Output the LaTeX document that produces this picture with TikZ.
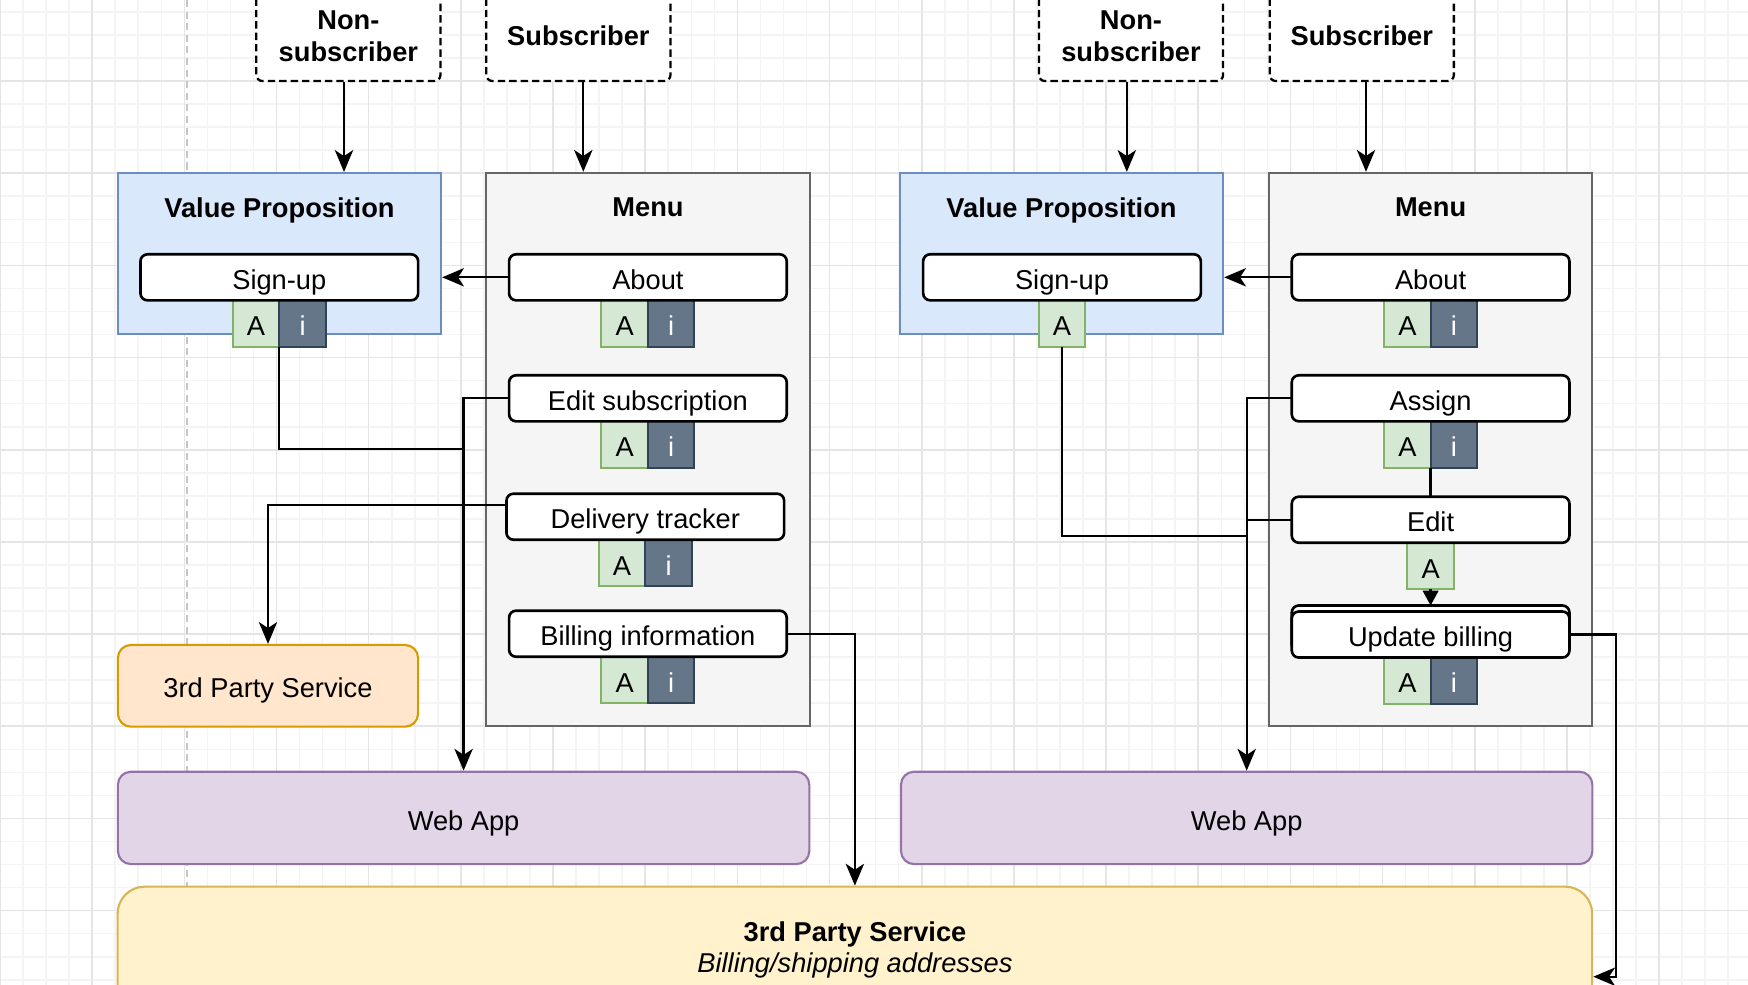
\documentclass[tikz,border=0pt]{standalone}
\usepackage{fontspec}
\setmainfont{Liberation Sans}
\usetikzlibrary{positioning,arrows.meta,backgrounds}

\definecolor{vpfill}{HTML}{DAE8FC}
\definecolor{vpline}{HTML}{6C8EBF}
\definecolor{menufill}{HTML}{F5F5F5}
\definecolor{menuline}{HTML}{666666}
\definecolor{afill}{HTML}{D5E8D4}
\definecolor{aline}{HTML}{82B366}
\definecolor{ifill}{HTML}{647687}
\definecolor{iline}{HTML}{314354}
\definecolor{svcfill}{HTML}{FFE6CC}
\definecolor{svcline}{HTML}{D79B00}
\definecolor{appfill}{HTML}{E1D5E7}
\definecolor{appline}{HTML}{9673A6}
\definecolor{billfill}{HTML}{FFF2CC}
\definecolor{billline}{HTML}{D6B656}
\definecolor{gridminor}{HTML}{F4F4F4}
\definecolor{gridmajor}{HTML}{E5E5E5}

\begin{document}
\begin{tikzpicture}[x=0.01cm, y=-0.01cm,
    font=\fontsize{7.75pt}{9pt}\selectfont,
    persona/.style={draw, fill=white, line width=0.65pt, dash pattern=on 2.1pt off 1.15pt,
      rounded corners=0.06cm, minimum width=1.84cm, minimum height=0.9cm, align=center,
      font=\fontsize{7.75pt}{9pt}\selectfont\bfseries},
    container/.style={line width=0.6pt, minimum width=3.23cm, inner sep=0pt},
    title/.style={inner sep=0pt, font=\fontsize{7.75pt}{9pt}\selectfont\bfseries},
    feature/.style={draw, fill=white, line width=0.75pt, rounded corners=0.07cm, outer sep=0pt,
      minimum width=2.775cm, minimum height=0.46cm, inner sep=0pt, text height=0.69em, text depth=0pt},
    abox/.style={draw=aline, fill=afill, line width=0.6pt, minimum size=0.465cm, inner sep=0pt,
      outer sep=0pt, text height=0.69em, text depth=0pt},
    ibox/.style={abox, draw=iline, fill=ifill, text=white},
    service/.style={line width=0.6pt, rounded corners=0.13cm, inner sep=0pt, text height=0.69em, text depth=0pt},
    conn/.style={line width=0.65pt},
    arrow/.style={conn, -{Stealth[length=6.2pt, width=5.2pt, inset=1.7pt]}},
    shortarrow/.style={conn, -{Stealth[length=4.2pt, width=4.4pt, inset=0pt]}}]
  \useasboundingbox (0,0) rectangle (1748,984);

  \begin{scope}[on background layer]
    \fill[white] (0,0) rectangle (1748,984);
    % grid of the canvas
    \begin{scope}[yshift=-0.1191cm]
      \draw[gridminor, line width=0.45pt, step=0.2303cm] (-10,1000) grid (1760,-30);
    \end{scope}
    \begin{scope}[yshift=-0.81cm]
      \draw[gridmajor, line width=0.45pt, step=0.9212cm] (-10,1000) grid (1760,-100);
    \end{scope}
    \draw[gray!45, line width=0.75pt, dash pattern=on 2pt off 1.3pt] (187,0) -- (187,890);

    % containers
    \node[container, fill=vpfill, draw=vpline, minimum height=1.61cm] (vp) at (279.5,253.5) {};
    \node[container, fill=menufill, draw=menuline, minimum height=5.53cm] (menu) at (648,449.5) {};
    \node[container, fill=vpfill, draw=vpline, minimum height=1.61cm] (vp2) at (1061.5,253.5) {};
    \node[container, fill=menufill, draw=menuline, minimum height=5.53cm] (menu2) at (1430.6,449.5) {};

    % services
    \node[service, fill=svcfill, draw=svcline, minimum width=3cm, minimum height=0.817cm] (svc) at (268,685.8) {3rd Party Service};
    \node[service, fill=appfill, draw=appline, minimum width=6.91cm, minimum height=0.923cm] (webapp) at (463.6,817.9) {Web App};
    \node[service, fill=appfill, draw=appline, minimum width=6.91cm, minimum height=0.923cm] (webapp2) at (1246.7,817.9) {Web App};
    \node[service, fill=billfill, draw=billline, rounded corners=0.27cm, minimum width=14.737cm, minimum height=1.8cm] (billsvc) at (854.9,976.7) {};
  \end{scope}

  \node[align=center, inner sep=0pt] (billsvctext) at (855,950) {\textbf{3rd Party Service}\\\textit{Billing/shipping addresses}};

  % users
  \node[persona] (nonsub) at (348.4,36) {Non-\\subscriber};
  \node[persona] (sub) at (578.4,36) {Subscriber};
  \node[persona] (nonsub2) at (1131,36) {Non-\\subscriber};
  \node[persona] (sub2) at (1361.8,36) {Subscriber};

  \node[title, below=0.25cm of vp.north] (vptitle) {Value Proposition};
  \node[title, below=0.25cm of menu.north] (menutitle) {Menu};
  \node[title, below=0.25cm of vp2.north] (vp2title) {Value Proposition};
  \node[title, below=0.25cm of menu2.north] (menu2title) {Menu};

  % pages
  \node[feature] (signup) at (279.3,277.3) {Sign-up};
  \node[feature] (about) at (647.9,277.3) {About};
  \node[feature] (editsub) at (647.9,398.3) {Edit subscription};
  \node[feature] (delivery) at (645.3,516.7) {Delivery tracker};
  \node[feature] (billing) at (647.9,633.7) {Billing information};

  \node[feature] (signup2) at (1062,277.3) {Sign-up};
  \node[feature] (about2) at (1430.6,277.3) {About};
  \node[feature] (assign) at (1430.6,398.3) {Assign};
  \node[feature] (edit) at (1430.6,519.7) {Edit};
  \node[feature] (updback) at (1430.6,628.5) {};
  \node[feature] (update) at (1430.6,634.5) {Update billing};

  \begin{scope}[on background layer]
    \node[abox, below left=0pt and 0pt of signup.south] (signupA) {A};
    \node[ibox, below right=0pt and 0pt of signup.south] (signupI) {i};
    \node[abox, below left=0pt and 0pt of about.south] (aboutA) {A};
    \node[ibox, below right=0pt and 0pt of about.south] (aboutI) {i};
    \node[abox, below left=0pt and 0pt of editsub.south] (editsubA) {A};
    \node[ibox, below right=0pt and 0pt of editsub.south] (editsubI) {i};
    \node[abox, below left=0pt and 0pt of delivery.south] (deliveryA) {A};
    \node[ibox, below right=0pt and 0pt of delivery.south] (deliveryI) {i};
    \node[abox, below left=0pt and 0pt of billing.south] (billingA) {A};
    \node[ibox, below right=0pt and 0pt of billing.south] (billingI) {i};

    \node[abox, below=0pt of signup2.south] (signup2A) {A};
    \node[abox, below left=0pt and 0pt of about2.south] (about2A) {A};
    \node[ibox, below right=0pt and 0pt of about2.south] (about2I) {i};
    \node[abox, below left=0pt and 0pt of assign.south] (assignA) {A};
    \node[ibox, below right=0pt and 0pt of assign.south] (assignI) {i};
    \node[abox, below=0pt of edit.south] (editA) {A};
    \node[abox, below left=0pt and 0pt of update.south] (updateA) {A};
    \node[ibox, below right=0pt and 0pt of update.south] (updateI) {i};
  \end{scope}

  % left flow
  \draw[arrow] ([xshift=-0.044cm]nonsub.south) coordinate (nsout) -- (nsout |- vp.north);
  \draw[arrow] ([xshift=0.049cm]sub.south) coordinate (sout) -- (sout |- menu.north);
  \draw[arrow] (about) -- (vp.east |- about);
  \draw[conn] (signupA.south east) |- (webapp.north |- 0,449.3);
  \draw[arrow] (editsub.west) -| (webapp.north);
  \draw[arrow] (delivery.west) ++(0,-11.7) -| (svc.north);
  \draw[arrow] (billing.east) -| (billsvc.north);

  % right flow
  \draw[arrow] ([xshift=-0.042cm]nonsub2.south) coordinate (ns2out) -- (ns2out |- vp2.north);
  \draw[arrow] ([xshift=0.042cm]sub2.south) coordinate (s2out) -- (s2out |- menu2.north);
  \draw[arrow] (about2) -- (vp2.east |- about2);
  \draw[conn] (signup2A.south) |- (webapp2.north |- 0,536);
  \draw[arrow] (assign.west) -| (webapp2.north);
  \draw[conn] (edit.west) -- (edit.west -| webapp2.north);
  \draw[conn] (assignA.south east) -- (edit.north);
  \draw[shortarrow] (editA.south) -- (updback.north);
  \draw[arrow] (update.east) -- ++(46.5,0) |- (billsvc.east);
\end{tikzpicture}
\end{document}
